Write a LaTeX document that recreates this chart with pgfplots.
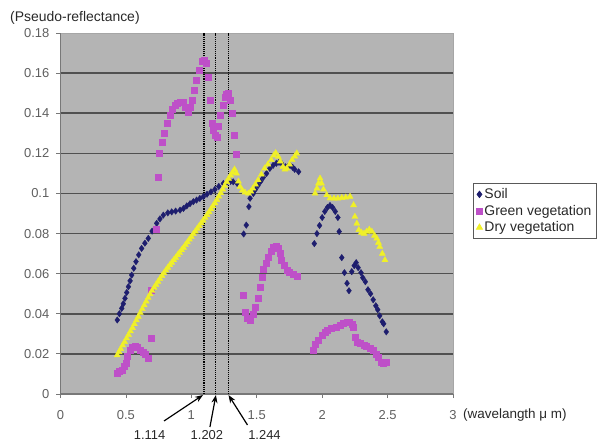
\documentclass[border=0pt]{standalone}
\usepackage{fontspec}
\setmainfont{Liberation Sans}
\usepackage{pgfplots}
\pgfplotsset{compat=1.18}
\usetikzlibrary{arrows.meta}
\definecolor{plotbg}{RGB}{180,180,180}
\definecolor{gridc}{RGB}{80,80,80}
\definecolor{axc}{RGB}{120,120,120}
\definecolor{soilc}{RGB}{30,30,110}
\definecolor{greenveg}{RGB}{190,80,200}
\definecolor{dryveg}{RGB}{240,240,40}
\definecolor{tickc}{RGB}{95,95,95}
\definecolor{txtc}{RGB}{40,40,40}
\begin{document}
\begin{tikzpicture}
\begin{axis}[
  at={(0,0)}, anchor=south west,
  scale only axis, width=392.5bp, height=361bp,
  xmin=0, xmax=3, ymin=0, ymax=0.18,
  xtick={0,0.5,1,1.5,2,2.5,3},
  ytick={0,0.02,0.04,0.06,0.08,0.1,0.12,0.14,0.16,0.18},
  scaled y ticks=false, scaled x ticks=false,
  axis lines*=left,
  axis line style={-, draw=axc, line width=1.4bp},
  axis background/.style={fill=plotbg, draw=gray!70, line width=0.5bp},
  tick align=outside, major tick length=4bp,
  tick style={draw=axc, line width=0.8bp},
  /pgf/number format/assume math mode=true,
  /pgf/number format/.cd, fixed, precision=2, /pgfplots/.cd,
  xticklabel style={font=\fontsize{13}{15}\selectfont, text=tickc, anchor=center, yshift=-17bp},
  yticklabel style={font=\fontsize{13}{15}\selectfont, text=tickc, anchor=east, inner sep=0pt, xshift=-7bp},
  clip=false,
  legend style={at={(1.051,0.584)}, anchor=north west, draw=black!65, line width=0.8bp,
    fill=white, font=\fontsize{14}{16}\selectfont, text=txtc, row sep=1bp, inner sep=3bp},
  legend cell align=left,
  legend image code/.code={\draw[#1] plot coordinates {(0bp,0bp)};},
]
% horizontal grid lines
\foreach \yy in {0.02,0.04,0.06,0.08,0.1,0.12,0.14,0.16}{
  \edef\temp{\noexpand\draw[gridc, line width=1.5bp] (axis cs:0,\yy) -- (axis cs:3,\yy);}\temp
}
\addplot[only marks, mark=diamond*, mark size=3.2bp, color=soilc, mark options={draw=soilc, fill=soilc}] coordinates {
(0.434,0.0369) (0.45,0.040) (0.468,0.0427) (0.48,0.045) (0.493,0.0477) (0.506,0.0506)
(0.519,0.0535) (0.532,0.0564) (0.544,0.0593) (0.56,0.0627) (0.577,0.066) (0.598,0.0694)
(0.62,0.0726) (0.645,0.0752) (0.671,0.0776) (0.70,0.0812) (0.735,0.0851) (0.76,0.0873)
(0.786,0.0892) (0.82,0.0903) (0.85,0.0908) (0.88,0.0912) (0.914,0.0917) (0.94,0.0925)
(0.965,0.0938) (0.99,0.0949) (1.015,0.0959) (1.04,0.0967) (1.065,0.0975) (1.092,0.0984)
(1.12,0.0996) (1.15,0.1008) (1.18,0.102) (1.21,0.1035) (1.245,0.105) (1.27,0.1055)
(1.30,0.106) (1.32,0.1058) (1.35,0.105)
(1.40,0.0798) (1.42,0.0842) (1.44,0.0934) (1.449,0.0976) (1.474,0.100) (1.49,0.102)
(1.51,0.104) (1.53,0.106) (1.55,0.108) (1.575,0.110) (1.60,0.1125) (1.625,0.114)
(1.65,0.115) (1.67,0.1155) (1.69,0.115) (1.72,0.1133) (1.74,0.1135) (1.755,0.114)
(1.775,0.113) (1.79,0.112) (1.82,0.1108)
(1.94,0.075) (1.96,0.080) (1.98,0.084) (2.00,0.088) (2.02,0.091) (2.04,0.093)
(2.06,0.094) (2.08,0.093) (2.10,0.091) (2.12,0.088) (2.13,0.081) (2.15,0.068)
(2.17,0.0605) (2.19,0.0552) (2.205,0.0515) (2.226,0.061) (2.245,0.064) (2.26,0.0655)
(2.275,0.063) (2.297,0.0605) (2.31,0.058) (2.33,0.056) (2.35,0.052) (2.37,0.050)
(2.39,0.047) (2.41,0.044) (2.425,0.042) (2.44,0.039) (2.46,0.036) (2.47,0.035) (2.49,0.031)
};
\addlegendentry{Soil}
\addplot[only marks, mark=square*, mark size=3bp, color=greenveg, mark options={draw=greenveg, fill=greenveg}] coordinates {
(0.43,0.0105) (0.45,0.0115) (0.47,0.012) (0.49,0.014) (0.50,0.0155) (0.51,0.019)
(0.53,0.022) (0.55,0.0235) (0.57,0.024) (0.59,0.0235) (0.61,0.022) (0.63,0.021)
(0.65,0.020) (0.67,0.018) (0.69,0.028) (0.697,0.052) (0.73,0.082)
(0.744,0.1083) (0.755,0.120) (0.774,0.1258) (0.79,0.130) (0.812,0.135) (0.837,0.139)
(0.855,0.142) (0.875,0.144) (0.895,0.1452) (0.914,0.1457) (0.935,0.1455) (0.952,0.1432)
(0.977,0.1407) (0.99,0.143) (1.003,0.1466) (1.02,0.1516) (1.036,0.1565) (1.057,0.1615)
(1.08,0.1657) (1.095,0.1665) (1.11,0.1648) (1.13,0.158) (1.143,0.1466) (1.156,0.135)
(1.168,0.1316) (1.18,0.129) (1.194,0.128) (1.206,0.1333) (1.22,0.139) (1.24,0.144)
(1.258,0.148) (1.27,0.1495) (1.283,0.1499) (1.30,0.1466) (1.316,0.140) (1.326,0.129)
(1.342,0.1196)
(1.40,0.0494) (1.41,0.041) (1.43,0.038) (1.45,0.0369) (1.47,0.040) (1.49,0.0435)
(1.51,0.048) (1.525,0.0535) (1.54,0.058) (1.55,0.062) (1.57,0.065) (1.59,0.0684)
(1.61,0.071) (1.627,0.0734) (1.645,0.0738) (1.665,0.0726) (1.68,0.070) (1.69,0.0668)
(1.71,0.064) (1.73,0.0618) (1.75,0.0605) (1.78,0.0595) (1.806,0.0585)
(1.93,0.022) (1.95,0.025) (1.97,0.027) (2.00,0.0295) (2.02,0.031) (2.04,0.032)
(2.07,0.033) (2.11,0.0335) (2.14,0.0345) (2.16,0.0355) (2.19,0.036) (2.21,0.036)
(2.23,0.035) (2.24,0.0335) (2.25,0.0285) (2.27,0.026) (2.29,0.0255) (2.32,0.0245)
(2.34,0.024) (2.37,0.023) (2.39,0.022) (2.41,0.020) (2.43,0.0185) (2.45,0.016)
(2.47,0.0155) (2.49,0.016)
};
\addlegendentry{Green vegetation}
\addplot[only marks, mark=triangle*, mark size=3.5bp, color=dryveg, mark options={draw=dryveg, fill=dryveg}] coordinates {
(0.434,0.0194) (0.447,0.021) (0.46,0.0225) (0.475,0.0243) (0.49,0.026) (0.505,0.0278) (0.52,0.0295) (0.535,0.0313) (0.55,0.033) (0.565,0.0349) (0.58,0.0368)
(0.595,0.0386) (0.61,0.0405) (0.625,0.0424) (0.64,0.0443) (0.655,0.0462) (0.67,0.048) (0.685,0.0498) (0.70,0.0515) (0.715,0.053) (0.73,0.0545) (0.745,0.056) (0.76,0.0575)
(0.775,0.0589) (0.79,0.0603) (0.805,0.0617) (0.82,0.063) (0.835,0.0643) (0.85,0.0655) (0.865,0.0668) (0.88,0.068) (0.895,0.0693) (0.91,0.0705) (0.925,0.0718) (0.94,0.073)
(0.955,0.0744) (0.97,0.0757) (0.985,0.0771) (1.00,0.0784) (1.015,0.0798) (1.03,0.0811) (1.045,0.0825) (1.06,0.0838) (1.075,0.0852) (1.09,0.0865) (1.105,0.0879) (1.12,0.0893)
(1.135,0.0907) (1.15,0.0922) (1.165,0.0937) (1.18,0.0952) (1.195,0.0968) (1.21,0.0985) (1.225,0.1002) (1.24,0.102) (1.255,0.1039) (1.27,0.1058) (1.285,0.1074) (1.30,0.109)
(1.315,0.1105) (1.33,0.112)
(1.345,0.110) (1.36,0.106) (1.372,0.1034) (1.39,0.1015) (1.41,0.1005) (1.436,0.100)
(1.455,0.101) (1.47,0.1025) (1.49,0.1045) (1.51,0.1067) (1.535,0.1095) (1.56,0.1125)
(1.585,0.1145) (1.61,0.1167) (1.63,0.119) (1.645,0.1202) (1.665,0.1183) (1.68,0.116)
(1.70,0.1133) (1.715,0.112) (1.73,0.1125) (1.75,0.1145) (1.77,0.1167) (1.79,0.1185)
(1.806,0.1200)
(1.946,0.100) (1.96,0.1025) (1.972,0.105) (1.984,0.1075) (1.995,0.105) (2.01,0.102)
(2.035,0.0992) (2.06,0.0976) (2.09,0.0975) (2.12,0.0975) (2.15,0.0978) (2.18,0.098)
(2.213,0.0984) (2.24,0.0942) (2.25,0.0884) (2.265,0.085) (2.28,0.0818) (2.30,0.0805)
(2.32,0.080) (2.34,0.081) (2.36,0.082) (2.38,0.081) (2.40,0.079) (2.417,0.0776)
(2.43,0.0755) (2.44,0.0734) (2.46,0.070) (2.48,0.0668)
};
\addlegendentry{Dry vegetation}
% dotted reference lines
\foreach \xx in {1.097,1.188,1.284}{
  \edef\temp{\noexpand\draw[black, line width=1.1bp, densely dotted] (axis cs:\xx,0) -- (axis cs:\xx,0.18);}\temp
}
\draw[black, line width=1.2bp, -{Stealth[length=8bp,width=6bp]}] ([shift={(-40bp,-27bp)}]axis cs:1.097,0) -- ([shift={(-1bp,-1bp)}]axis cs:1.097,0);
\draw[black, line width=1.2bp, -{Stealth[length=8bp,width=6bp]}] ([shift={(-6bp,-33bp)}]axis cs:1.188,0) -- ([shift={(0bp,-1bp)}]axis cs:1.188,0);
\draw[black, line width=1.2bp, -{Stealth[length=8bp,width=6bp]}] ([shift={(19bp,-31bp)}]axis cs:1.284,0) -- ([shift={(0bp,-1bp)}]axis cs:1.284,0);
\node[font=\fontsize{13}{15}\selectfont, text=txtc, inner sep=0pt] at ([shift={(-54.5bp,-41bp)}]axis cs:1.097,0) {1.114};
\node[font=\fontsize{13}{15}\selectfont, text=txtc, inner sep=0pt] at ([shift={(-9bp,-41bp)}]axis cs:1.188,0) {1.202};
\node[font=\fontsize{13}{15}\selectfont, text=txtc, inner sep=0pt] at ([shift={(36bp,-41bp)}]axis cs:1.284,0) {1.244};
\end{axis}
\node[anchor=west, inner sep=0pt, font=\fontsize{14}{16}\selectfont, text=txtc] at (-50.5bp,376bp) {(Pseudo-reflectance)};
\node[anchor=west, inner sep=0pt, font=\fontsize{13.5}{15}\selectfont, text=txtc] at (402.5bp,-21bp) {(wavelangth μ m)};
\pgfresetboundingbox
\path[use as bounding box] (-60.5bp,-49bp) rectangle (547.5bp,394bp);
\end{tikzpicture}
\end{document}
